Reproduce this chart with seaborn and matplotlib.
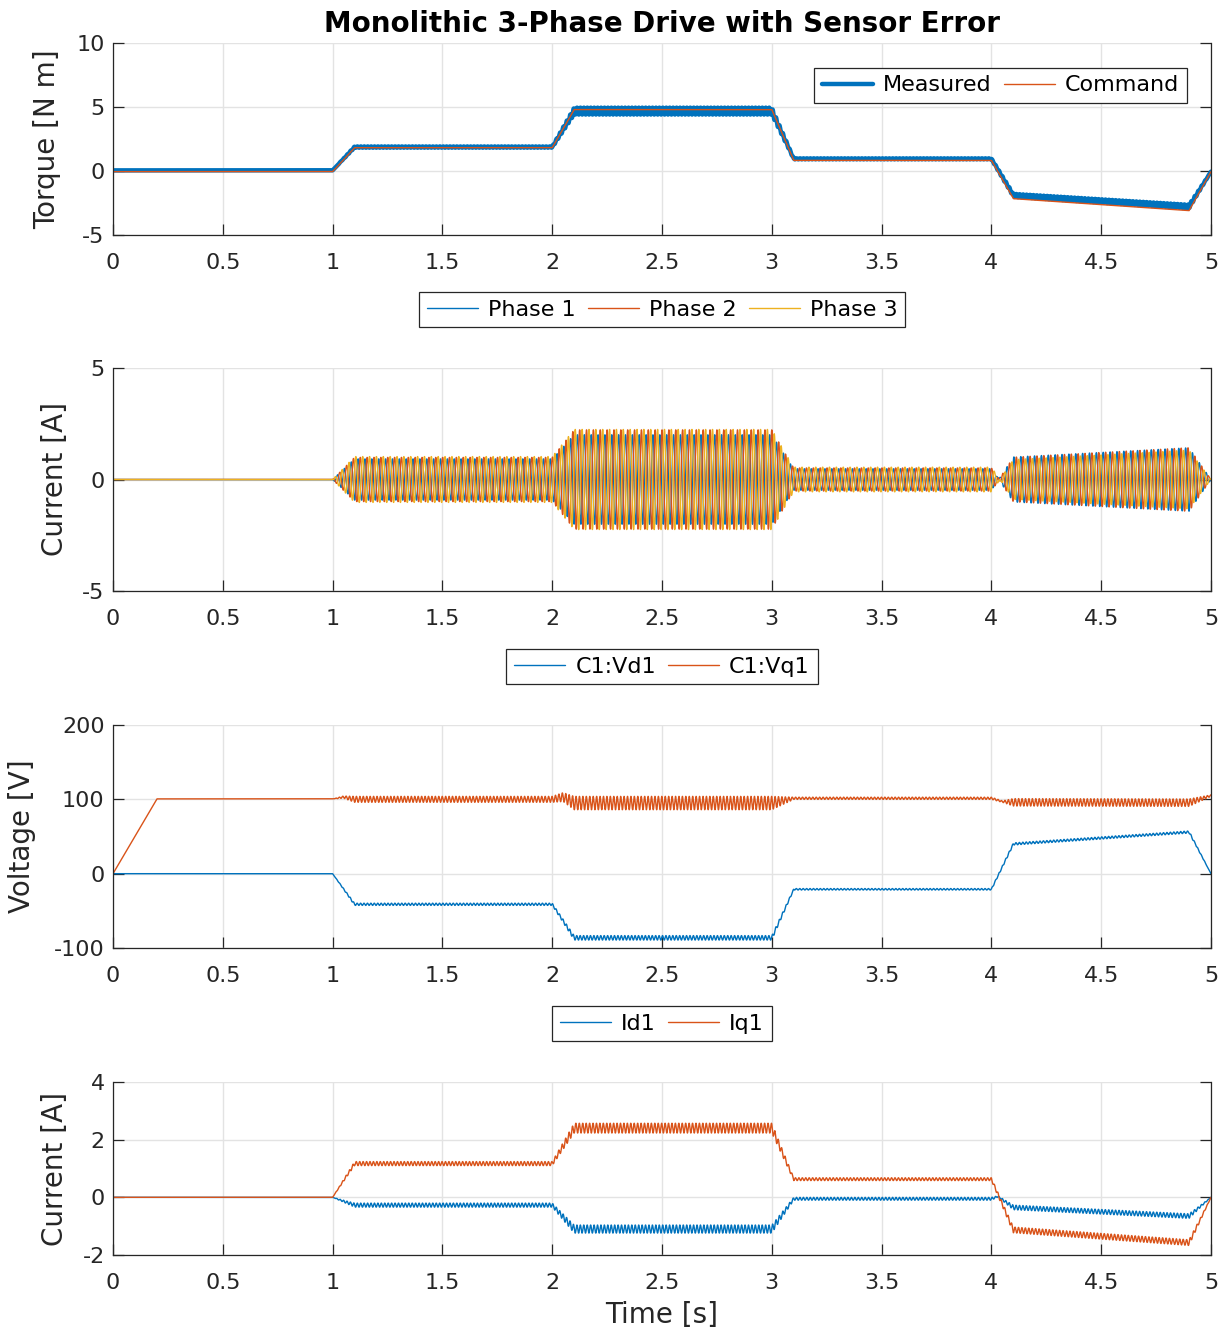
import numpy as np
import pandas as pd
import matplotlib
matplotlib.use("Agg")
import matplotlib.pyplot as plt
from matplotlib.lines import Line2D
from matplotlib.ticker import FixedLocator, FixedFormatter
import seaborn as sns

# ---------------------------------------------------------------- data
# Simulation time span and electrical frequency of the machine
T_END = 5.0
F_ELEC = 32.0          # Hz, electrical frequency (constant speed)

# Torque command (knots, linear between them)
torque_cmd_t = [0.0, 1.0, 1.1, 2.0, 2.1, 3.0, 3.1, 4.0, 4.1, 4.9, 5.0]
torque_cmd_v = [-0.05, -0.05, 1.82, 1.82, 4.80, 4.80, 0.83, 0.83, -2.16, -3.10, -0.05]

# Measured torque: mean level and ripple amplitude (ripple from sensor error)
torque_meas_t = [0.0, 1.0, 1.1, 2.0, 2.1, 3.0, 3.1, 4.0, 4.1, 4.9, 5.0]
torque_meas_v = [0.05, 0.05, 1.87, 1.87, 4.68, 4.68, 0.95, 0.95, -1.90, -2.78, -0.05]
torque_meas_r = [0.0, 0.0, 0.05, 0.05, 0.27, 0.27, 0.04, 0.04, 0.12, 0.15, 0.0]

# d/q voltages of controller C1
vd_t = [0.0, 1.0, 1.1, 2.0, 2.1, 3.0, 3.1, 4.0, 4.1, 4.9, 5.0]
vd_v = [0.0, 0.0, -41.2, -41.2, -86.3, -86.3, -21.0, -21.0, 40.0, 56.0, 0.0]
vd_r = [0.0, 0.0, 1.5, 1.5, 3.0, 3.0, 1.0, 1.0, 1.5, 1.5, 0.0]

vq_t = [0.0, 0.2, 1.0, 1.05, 1.1, 2.0, 2.05, 2.1, 3.0, 3.1, 4.0, 4.05, 4.1, 4.9, 5.0]
vq_v = [0.0, 100.6, 100.6, 103.0, 100.0, 100.0, 103.0, 95.0, 95.0, 101.4, 101.4, 97.0, 96.0, 95.5, 105.0]
vq_r = [0.0, 0.0, 0.0, 1.5, 4.0, 4.0, 6.0, 9.0, 9.0, 1.5, 1.5, 1.0, 5.0, 5.0, 1.0]

# d/q currents
id_t = [0.0, 1.0, 1.1, 2.0, 2.1, 3.0, 3.1, 4.0, 4.03, 4.1, 4.9, 5.0]
id_v = [0.0, 0.0, -0.27, -0.27, -1.10, -1.10, -0.05, -0.05, 0.03, -0.35, -0.65, 0.0]
id_r = [0.0, 0.0, 0.07, 0.07, 0.14, 0.14, 0.05, 0.05, 0.02, 0.08, 0.08, 0.0]

iq_t = [0.0, 1.0, 1.1, 2.0, 2.1, 3.0, 3.1, 4.0, 4.1, 4.9, 5.0]
iq_v = [0.0, 0.0, 1.17, 1.17, 2.40, 2.40, 0.63, 0.63, -1.13, -1.57, 0.0]
iq_r = [0.0, 0.0, 0.07, 0.07, 0.17, 0.17, 0.05, 0.05, 0.10, 0.10, 0.0]

phase_names = ["Phase 1", "Phase 2", "Phase 3"]

x_ticks = [0, 0.5, 1, 1.5, 2, 2.5, 3, 3.5, 4, 4.5, 5]
x_tick_labels = ["0", "0.5", "1", "1.5", "2", "2.5", "3", "3.5", "4", "4.5", "5"]
torque_ticks = [-5, 0, 5, 10]
phase_ticks = [-5, 0, 5]
volt_ticks = [-100, 0, 100, 200]
idq_ticks = [-2, 0, 2, 4]

# ---------------------------------------------------------------- signals
t = np.linspace(0.0, T_END, 25001)
theta = 2 * np.pi * F_ELEC * t


def signal(kt, kv, kr=None, phase=0.0):
    """Piecewise-linear level through the knots plus the 2nd-harmonic ripple."""
    s = np.interp(t, kt, kv)
    if kr is not None:
        s = s + np.interp(t, kt, kr) * np.sin(2 * theta + phase)
    return s


torque_cmd = signal(torque_cmd_t, torque_cmd_v)
torque_meas = signal(torque_meas_t, torque_meas_v, torque_meas_r)
vd = signal(vd_t, vd_v, vd_r, 0.6)
vq = signal(vq_t, vq_v, vq_r, 1.9)
i_d = signal(id_t, id_v, id_r, 0.3)
i_q = signal(iq_t, iq_v, iq_r, 2.2)

# phase currents from the dq currents (power-invariant inverse Park)
k = np.sqrt(2.0 / 3.0)
phases = []
for n in range(3):
    th = theta - n * 2 * np.pi / 3
    phases.append(k * (i_d * np.cos(th) - i_q * np.sin(th)))

df_phase = pd.DataFrame({
    "t": np.tile(t, 3),
    "i": np.concatenate(phases),
    "phase": np.repeat(phase_names, len(t)),
})

# ---------------------------------------------------------------- style
sns.set_theme(style="white")
plt.rcParams["font.family"] = ["DejaVu Sans"]
plt.rcParams["axes.unicode_minus"] = False

BLUE = "#0072BD"
ORANGE = "#D95319"
YELLOW = "#EDB120"
DARK = "#262626"
GRID = "#e3e3e3"

TICK_FS = 16
LABEL_FS = 20

fig = plt.figure(figsize=(12.28, 13.33), dpi=100)
W, H = 1228.0, 1333.0
left, right = 113 / W, 1211 / W


def make_ax(top_px, bottom_px):
    return fig.add_axes([left, 1 - bottom_px / H, right - left, (bottom_px - top_px) / H])


ax1 = make_ax(43, 235)
ax2 = make_ax(368, 591)
ax3 = make_ax(725, 948)
ax4 = make_ax(1082, 1255)


def style_axis(ax, yticks, ylim, ylabel, label_x_px):
    ax.set_xlim(0, 5)
    ax.set_ylim(*ylim)
    ax.xaxis.set_major_locator(FixedLocator(x_ticks))
    ax.xaxis.set_major_formatter(FixedFormatter(x_tick_labels))
    ax.yaxis.set_major_locator(FixedLocator(yticks))
    ax.yaxis.set_major_formatter(FixedFormatter([str(v) for v in yticks]))
    ax.grid(True, color=GRID, linewidth=1.0)
    ax.set_axisbelow(True)
    for side in ("left", "bottom", "right"):
        ax.spines[side].set_visible(True)
        ax.spines[side].set_color(DARK)
        ax.spines[side].set_linewidth(0.9)
    ax.spines["top"].set_visible(False)
    ax.tick_params(axis="both", which="major", direction="in", length=8, width=0.9,
                   color=DARK, labelsize=TICK_FS, labelcolor=DARK,
                   left=True, bottom=True, right=True, top=False)
    ax.tick_params(axis="x", pad=13)
    ax.tick_params(axis="y", pad=6)
    ax.set_ylabel(ylabel, fontsize=LABEL_FS, color=DARK, va="center")
    ax.yaxis.set_label_coords((label_x_px - 113) / 1098.0, 0.5)
    ax.set_xlabel("")


def legend(ax, handles, labels, ncol, loc, anchor, hl=2.3):
    leg = ax.legend(handles, labels, ncol=ncol, loc=loc, bbox_to_anchor=anchor,
                    borderaxespad=0, frameon=True, fancybox=False, framealpha=1,
                    edgecolor=DARK, fontsize=TICK_FS, handlelength=hl,
                    handletextpad=0.45, columnspacing=0.55, borderpad=0.35)
    leg.get_frame().set_linewidth(0.9)
    for txt in leg.get_texts():
        txt.set_color("black")
    return leg


# --- torque
sns.lineplot(x=t, y=torque_meas, ax=ax1, color=BLUE, linewidth=3.2,
             estimator=None, sort=False)
sns.lineplot(x=t, y=torque_cmd, ax=ax1, color=ORANGE, linewidth=1.0,
             estimator=None, sort=False)
style_axis(ax1, torque_ticks, (-5, 10), "Torque [N m]", 47)
ax1.set_title("Monolithic 3-Phase Drive with Sensor Error", fontsize=20,
              fontweight="bold", color="black", pad=8)
legend(ax1,
       [Line2D([], [], color=BLUE, lw=3.2), Line2D([], [], color=ORANGE, lw=1.0)],
       ["Measured", "Command"], 2, "upper right", (0.978, 0.872))

# --- phase currents
sns.lineplot(data=df_phase, x="t", y="i", hue="phase", hue_order=phase_names,
             palette=[BLUE, ORANGE, YELLOW], linewidth=1.0, ax=ax2,
             estimator=None, sort=False, legend=False)
style_axis(ax2, phase_ticks, (-5, 5), "Current [A]", 55)
legend(ax2, [Line2D([], [], color=c, lw=1.0) for c in (BLUE, ORANGE, YELLOW)],
       phase_names, 3, "center", (0.5, 1.262))

# --- dq voltages
sns.lineplot(x=t, y=vd, ax=ax3, color=BLUE, linewidth=1.0, estimator=None, sort=False)
sns.lineplot(x=t, y=vq, ax=ax3, color=ORANGE, linewidth=1.0, estimator=None, sort=False)
style_axis(ax3, volt_ticks, (-100, 200), "Voltage [V]", 22)
legend(ax3, [Line2D([], [], color=c, lw=1.0) for c in (BLUE, ORANGE)],
       ["C1:Vd1", "C1:Vq1"], 2, "center", (0.5, 1.262))

# --- dq currents
sns.lineplot(x=t, y=i_d, ax=ax4, color=BLUE, linewidth=1.0, estimator=None, sort=False)
sns.lineplot(x=t, y=i_q, ax=ax4, color=ORANGE, linewidth=1.0, estimator=None, sort=False)
style_axis(ax4, idq_ticks, (-2, 4), "Current [A]", 55)
ax4.set_xlabel("Time [s]", fontsize=LABEL_FS, color=DARK, labelpad=6)
legend(ax4, [Line2D([], [], color=c, lw=1.0) for c in (BLUE, ORANGE)],
       ["Id1", "Iq1"], 2, "center", (0.5, 1.338))

fig.savefig("out.png", dpi=100, facecolor="white")
